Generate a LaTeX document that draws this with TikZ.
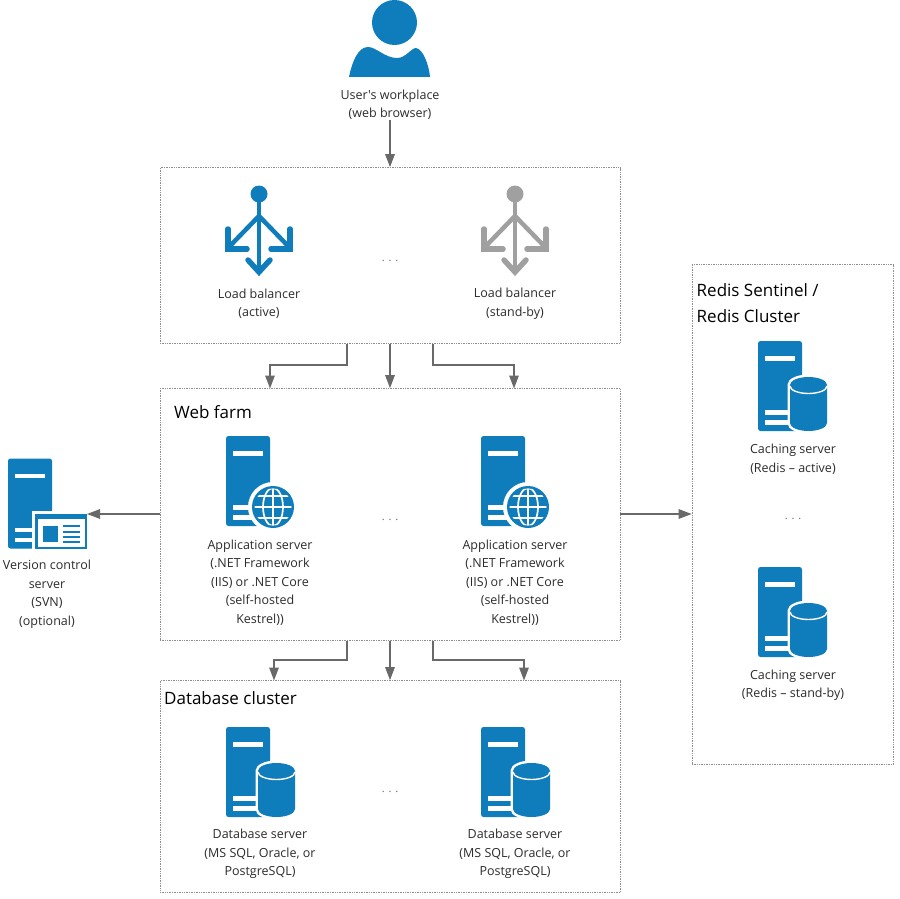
\documentclass[tikz,border=0pt]{standalone}
\usepackage{fontspec}
\setmainfont{Open Sans}[Ligatures=TeXOff]
\usetikzlibrary{arrows.meta}
\definecolor{iconblue}{HTML}{0F7CBC}
\definecolor{icongray}{HTML}{A0A0A0}
\definecolor{linegray}{HTML}{696969}
\definecolor{txt}{HTML}{2B2B2B}
\tikzset{
  box/.style={draw=linegray!75,densely dotted,line width=0.7pt,fill=none,inner sep=0pt},
  lbl/.style={align=center,inner sep=0pt,text=txt,font=\fontsize{12.5}{18.5}\selectfont},
  ttl/.style={anchor=west,inner sep=0pt,text=black,font=\fontsize{17}{26}\selectfont},
  gap/.style={inner sep=0pt,text=linegray,font=\fontsize{11}{13}\selectfont},
  conn/.style={draw=linegray,line width=1.4pt,-{Triangle[length=13pt,width=9.5pt]}},
  pics/srv/.style={code={
    \fill[iconblue,rounded corners=2.5pt] (0,0) rectangle (44,90);
    \fill[white] (7,15) rectangle (37,19.5);
    \fill[white] (7,69) rectangle (33,73.5);
    \fill[white] (7,79) rectangle (33,83.5);
  }},
  pics/dbsrv/.style={code={
    \pic {srv};
    \path[fill=iconblue,draw=white,line width=5pt] (32,44) arc[start angle=180,end angle=0,x radius=18.5pt,y radius=8pt]
      -- (69,82) arc[start angle=0,end angle=-180,x radius=18.5pt,y radius=8pt] -- cycle;
    \fill[iconblue] (32,44) arc[start angle=180,end angle=0,x radius=18.5pt,y radius=8pt]
      -- (69,82) arc[start angle=0,end angle=-180,x radius=18.5pt,y radius=8pt] -- cycle;
    \draw[white,line width=1.4pt] (32,45) arc[start angle=180,end angle=360,x radius=18.5pt,y radius=7.5pt];
  }},
  pics/websrv/.style={code={
    \pic {srv};
    \fill[white] (47,71) circle[radius=25pt];
    \fill[iconblue] (47,71) circle[radius=21pt];
    \begin{scope}
      \clip (47,71) circle[radius=18.5pt];
      \draw[white,line width=1.7pt] (47,50) -- (47,92);
      \draw[white,line width=1.7pt] (47,71) ellipse[x radius=10pt,y radius=19pt];
      \draw[white,line width=1.7pt] (26,71) -- (68,71);
      \draw[white,line width=1.7pt] (26,60) -- (68,60);
      \draw[white,line width=1.7pt] (26,82) -- (68,82);
    \end{scope}
  }},
  pics/lbicon/.style={code={
    \fill[#1] (0,0) circle[radius=8.5pt];
    \draw[#1,line width=3.4pt] (0,0) -- (0,80);
    \draw[#1,line width=4.5pt] (0,22) -- (-31,54);
    \draw[#1,line width=4.5pt] (0,22) -- (31,54);
    \draw[#1,line width=5.5pt,line cap=round,line join=miter] (-31,35) -- (-31,55) -- (-12,55);
    \draw[#1,line width=5.5pt,line cap=round,line join=miter] (31,35) -- (31,55) -- (12,55);
    \draw[#1,line width=5.5pt,line cap=round,line join=miter] (-11,66) -- (0,78) -- (11,66);
  }},
}
\begin{document}
\begin{tikzpicture}[x=1pt,y=-1pt]
\useasboundingbox (0,0) rectangle (900,899);

% containers
\node[box,minimum width=460pt,minimum height=176pt] (lbbox) at (390,255.5) {};
\node[box,minimum width=460pt,minimum height=252pt] (webbox) at (390,514.5) {};
\node[box,minimum width=460pt,minimum height=212pt] (dbbox) at (390,786.5) {};
\node[box,minimum width=201pt,minimum height=500pt] (redisbox) at (792.5,514.5) {};

% user
\fill[iconblue] (394.5,22.5) circle[radius=22.5pt];
\fill[iconblue] (349,77) .. controls (352,62) and (358,47) .. (368,47)
  .. controls (376,47) and (385,58) .. (397,58)
  .. controls (406,58) and (411,48) .. (416,48)
  .. controls (423,49) and (429,65) .. (430,77) -- cycle;
\node[lbl] (userlabel) at (390,104.7) {User's workplace\\(web browser)};

% load balancers
\pic at (259,194) {lbicon=iconblue};
\pic at (515,194) {lbicon=icongray};
\node[lbl] (lb1) at (259,303.7) {Load balancer\\(active)};
\node[lbl] (lb2) at (515,303.7) {Load balancer\\(stand-by)};
\node[gap] (lbdots) at (390,261) {. . .};

% web farm
\node[ttl] (webtitle) at (174,412) {Web farm};
\pic at (226,436) {websrv};
\pic at (481,436) {websrv};
\node[lbl] (app1) at (260,582.7) {Application server\\(.NET Framework\\(IIS) or .NET Core\\(self-hosted\\Kestrel))};
\node[lbl] (app2) at (515,582.7) {Application server\\(.NET Framework\\(IIS) or .NET Core\\(self-hosted\\Kestrel))};
\node[gap] (webdots) at (390,520) {. . .};

% version control
\pic at (8,458.5) {srv};
\fill[white] (32,511) rectangle (90,552);
\fill[iconblue] (35,514) rectangle (87,549);
\fill[white] (38,519) rectangle (84.5,547);
\fill[iconblue] (43,526) rectangle (58,542);
\foreach \yy in {526,531.5,537,542} \fill[iconblue] (63,\yy-1) rectangle (80,\yy+1);
\coordinate (vcsicon) at (87,514);
\node[lbl] (vcs) at (47,594.2) {Version control\\server\\(SVN)\\(optional)};

% database cluster
\node[ttl] (dbtitle) at (164,698) {Database cluster};
\pic at (226,727) {dbsrv};
\pic at (481,727) {dbsrv};
\node[lbl] (db1) at (260,854) {Database server\\(MS SQL, Oracle, or\\PostgreSQL)};
\node[lbl] (db2) at (515,854) {Database server\\(MS SQL, Oracle, or\\PostgreSQL)};
\node[gap] (dbdots) at (390,792) {. . .};

% redis
\node[ttl] (redistitle1) at (696.5,290) {Redis Sentinel /};
\node[ttl] (redistitle2) at (696.5,316) {Redis Cluster};
\pic at (758,341) {dbsrv};
\pic at (758,567) {dbsrv};
\node[lbl] (cache1) at (793,459) {Caching server\\(Redis – active)};
\node[lbl] (cache2) at (793,685) {Caching server\\(Redis – stand-by)};
\node[gap] (redisdots) at (793,519) {. . .};

% connectors
\draw[conn] (userlabel.south) -- (lbbox.north);
\coordinate (web1top) at (270,388.5);
\coordinate (web2top) at (514,388.5);
\coordinate (db1top) at (274,680.5);
\coordinate (db2top) at (524,680.5);
\draw[conn] (lbbox.south) -- (webbox.north);
\draw[conn] (lbbox.south -| 347,0) -- (347,365) -- (270,365) -- (web1top);
\draw[conn] (lbbox.south -| 433,0) -- (433,365) -- (514,365) -- (web2top);
\draw[conn] (webbox.south) -- (dbbox.north);
\draw[conn] (webbox.south -| 347,0) -- (347,660) -- (274,660) -- (db1top);
\draw[conn] (webbox.south -| 433,0) -- (433,660) -- (524,660) -- (db2top);
\draw[conn] (webbox.west |- vcsicon) -- (vcsicon);
\draw[conn] (webbox.east |- vcsicon) -- (redisbox.west |- vcsicon);
\end{tikzpicture}
\end{document}
